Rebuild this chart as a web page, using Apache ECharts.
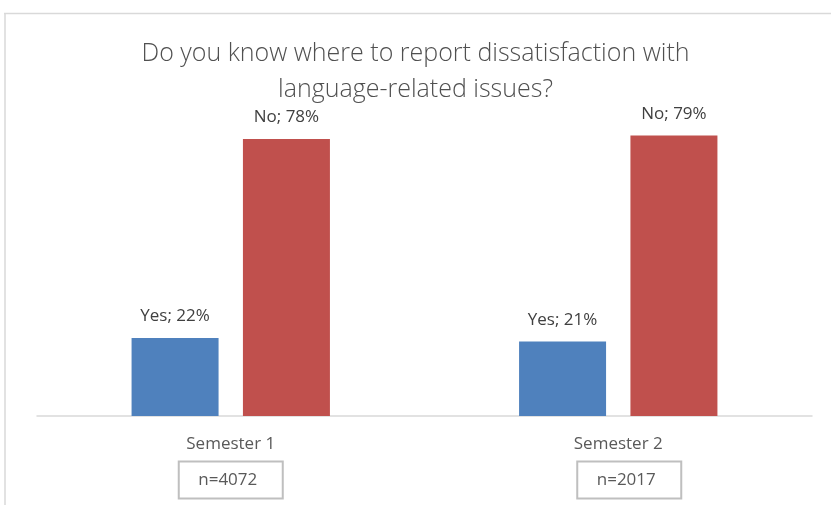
<!DOCTYPE html>
<html>
<head>
<meta charset="utf-8">
<script src="https://cdn.jsdelivr.net/npm/echarts@6/dist/echarts.min.js"></script>
<style>html,body{margin:0;padding:0;background:#fff;}#c{width:831px;height:505px;}</style>
</head>
<body>
<div id="c"></div>
<script>
const titleText = 'Do you know where to report dissatisfaction with\nlanguage-related issues?';
const categories = ['Semester 1', 'Semester 2'];
const sampleSizes = ['n=4072', 'n=2017'];
const seriesNames = ['Yes', 'No'];
const yesValues = [22, 21];
const noValues = [78, 79];

const chart = echarts.init(document.getElementById('c'), null, {renderer: 'canvas'});
const labelStyle = {
  show: true, position: 'top', distance: 13,
  fontFamily: 'Open Sans', fontSize: 17, color: '#404040',
  formatter: p => p.seriesName + '; ' + p.value + '%'
};
chart.setOption({
  backgroundColor: '#fff',
  animation: false,
  title: {
    text: titleText, left: 'center', top: 31,
    textStyle: {fontFamily: 'Open Sans', fontWeight: 300, fontSize: 25, color: '#505050', lineHeight: 36}
  },
  graphic: [
    {type: 'line', shape: {x1: 4, y1: 13.5, x2: 831, y2: 13.5}, style: {stroke: '#d9d9d9', lineWidth: 1.5}},
    {type: 'line', shape: {x1: 5, y1: 13, x2: 5, y2: 505}, style: {stroke: '#d9d9d9', lineWidth: 1.5}}
  ],
  grid: {left: 37, right: 19, top: 61, bottom: 89, containLabel: false},
  xAxis: [{
    type: 'category', data: categories, position: 'bottom',
    axisLine: {lineStyle: {color: '#d9d9d9', width: 1.5}},
    axisTick: {show: false},
    axisLabel: {
      margin: 18, fontFamily: 'Open Sans', fontSize: 17, color: '#595959', lineHeight: 20
    }
  }, {
    type: 'category', data: sampleSizes, position: 'bottom', offset: 0,
    axisLine: {show: false},
    axisTick: {show: false},
    axisLabel: {
      margin: 54,
      formatter: (v, i) => (i === 1 ? '{s|}' : '') + '{b|' + v + '}',
      rich: {
        s: {width: 22, height: 10},
        b: {fontFamily: 'Open Sans', fontSize: 17, color: '#595959', lineHeight: 20, width: 80, align: 'center',
            padding: [10, 15, 10, 9], borderColor: '#bfbfbf', borderWidth: 2}
      }
    }
  }],
  yAxis: {type: 'value', min: 0, max: 100, show: false, splitLine: {show: false}},
  series: [
    {name: seriesNames[0], type: 'bar', data: yesValues, barWidth: 87, barGap: '28%',
     itemStyle: {color: '#4f81bd'}, label: labelStyle},
    {name: seriesNames[1], type: 'bar', data: noValues, barWidth: 87,
     itemStyle: {color: '#c0504d'}, label: labelStyle}
  ]
});
</script>
</body>
</html>
